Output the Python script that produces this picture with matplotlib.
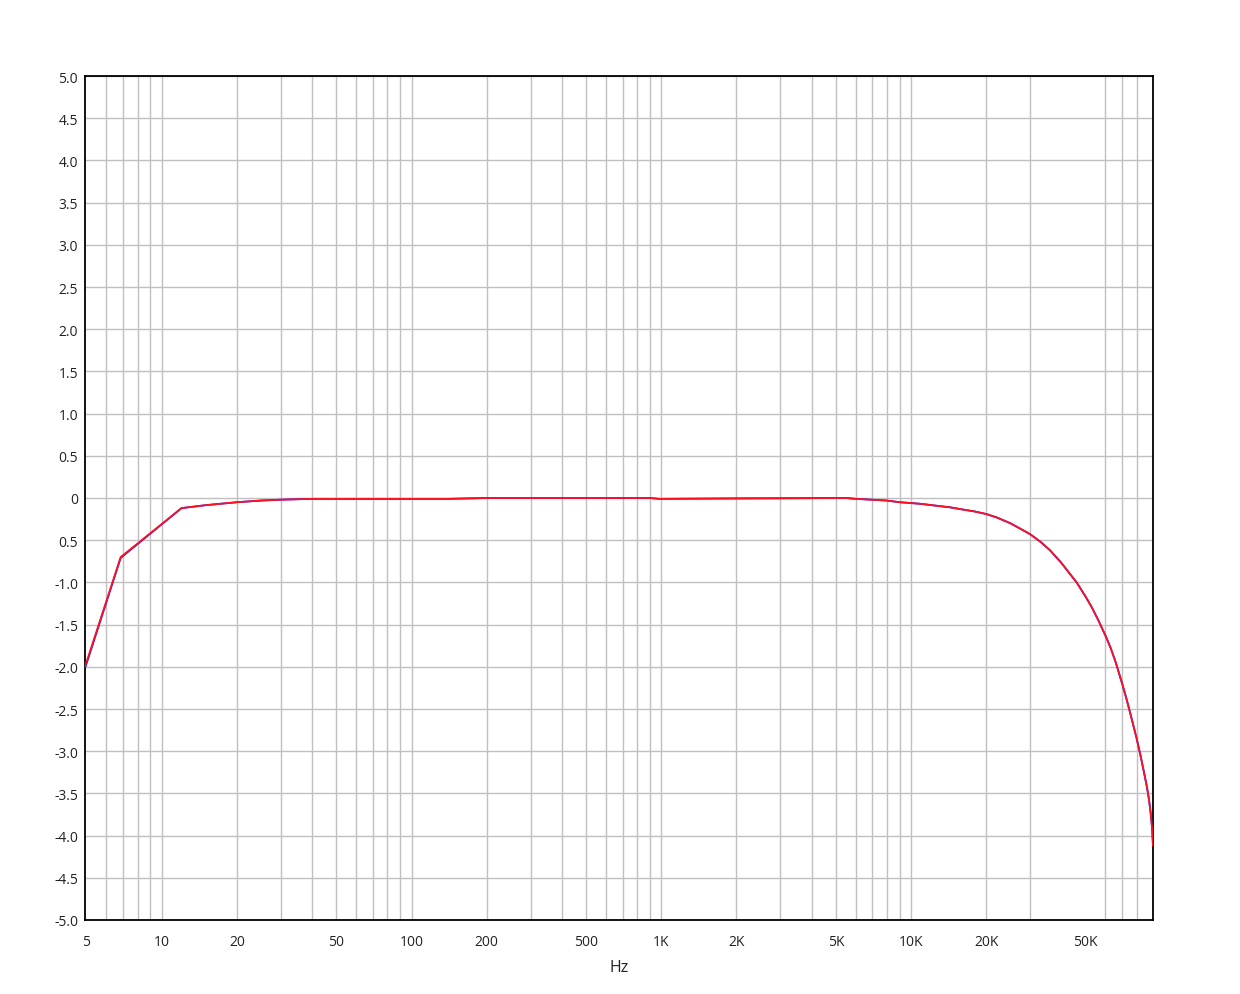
import matplotlib
matplotlib.use("Agg")
import matplotlib.pyplot as plt

# frequency response readings (Hz, dB)
freq = [4.93, 6.85, 12, 15, 20, 25, 30, 40, 140, 200, 900, 980, 2000, 5500,
        6000, 8000, 9000, 10000, 11000, 12500, 14300, 16000, 18000, 20000,
        22000, 25000, 28000, 30000, 33000, 36000, 40000, 43000, 46000, 50000,
        53000, 56000, 60000, 63000, 66000, 70000, 73000, 76000, 80000, 83000,
        86000, 88000, 89600, 91000, 92200, 93000]
left_db = [-2.02, -0.71, -0.12, -0.085, -0.05, -0.03, -0.02, -0.01, -0.01, 0.0,
           0.0, -0.01, -0.005, 0.0, -0.01, -0.03, -0.05, -0.06, -0.07, -0.09,
           -0.11, -0.135, -0.16, -0.19, -0.23, -0.30, -0.38, -0.43, -0.52, -0.62,
           -0.77, -0.89, -1.0, -1.17, -1.30, -1.44, -1.63, -1.78, -1.95, -2.20,
           -2.39, -2.59, -2.85, -3.06, -3.28, -3.43, -3.57, -3.73, -3.91, -4.12]
right_db = [-2.0, -0.70, -0.12, -0.085, -0.05, -0.03, -0.02, -0.01, -0.01, 0.0,
            0.0, -0.01, -0.005, 0.0, -0.01, -0.03, -0.05, -0.06, -0.07, -0.09,
            -0.11, -0.135, -0.16, -0.19, -0.23, -0.30, -0.38, -0.43, -0.52, -0.62,
            -0.77, -0.89, -1.0, -1.17, -1.30, -1.44, -1.63, -1.78, -1.95, -2.20,
            -2.39, -2.59, -2.85, -3.06, -3.28, -3.43, -3.57, -3.73, -3.91, -4.12]

xticks = [5, 10, 20, 50, 100, 200, 500, 1000, 2000, 5000, 10000, 20000, 50000]
xlabels = ["5", "10", "20", "50", "100", "200", "500", "1K", "2K", "5K",
           "10K", "20K", "50K"]
xgrid = [6, 7, 8, 9, 10, 20, 30, 40, 50, 60, 70, 80, 90, 100,
         200, 300, 400, 500, 600, 700, 800, 900, 1000,
         2000, 3000, 4000, 5000, 6000, 7000, 8000, 9000, 10000,
         20000, 30000, 60000, 70000, 80000]
yticks = [5.0, 4.5, 4.0, 3.5, 3.0, 2.5, 2.0, 1.5, 1.0, 0.5, 0, -0.5, -1.0,
          -1.5, -2.0, -2.5, -3.0, -3.5, -4.0, -4.5, -5.0]
ylabels = ["5.0", "4.5", "4.0", "3.5", "3.0", "2.5", "2.0", "1.5", "1.0", "0.5",
           "0", "0.5", "-1.0", "-1.5", "-2.0", "-2.5", "-3.0", "-3.5", "-4.0",
           "-4.5", "-5.0"]

plt.rcParams['font.family'] = ['Open Sans', 'DejaVu Sans']

fig = plt.figure(figsize=(12.4, 9.95), dpi=100)
ax = fig.add_axes([85 / 1240, 1 - 921 / 995, 1068 / 1240, 844 / 995])

for g in xgrid:
    ax.axvline(g, color="#c0c0c0", lw=1, zorder=0)
for y in yticks:
    ax.axhline(y, color="#c0c0c0", lw=1, zorder=0)

ax.plot(freq, left_db, color="#2020ff", lw=1.3, zorder=2)
ax.plot(freq, right_db, color="#ff1020", lw=1.3, zorder=3)

ax.set_xscale("log")
ax.set_xlim(4.93, 93000)
ax.set_ylim(-5.0, 5.0)
ax.set_xticks(xticks)
ax.set_xticklabels(xlabels)
ax.xaxis.set_minor_locator(matplotlib.ticker.NullLocator())
ax.set_yticks(yticks)
ax.set_yticklabels(ylabels)
ax.tick_params(length=0, labelsize=10, colors="#222222")
ax.tick_params(axis="x", pad=10)
ax.tick_params(axis="y", pad=5)
ax.set_xlabel("Hz", fontsize=11.5, color="#222222", labelpad=7)
for s in ax.spines.values():
    s.set_linewidth(1.3)
    s.set_color("black")

fig.savefig("out.png", dpi=100)
